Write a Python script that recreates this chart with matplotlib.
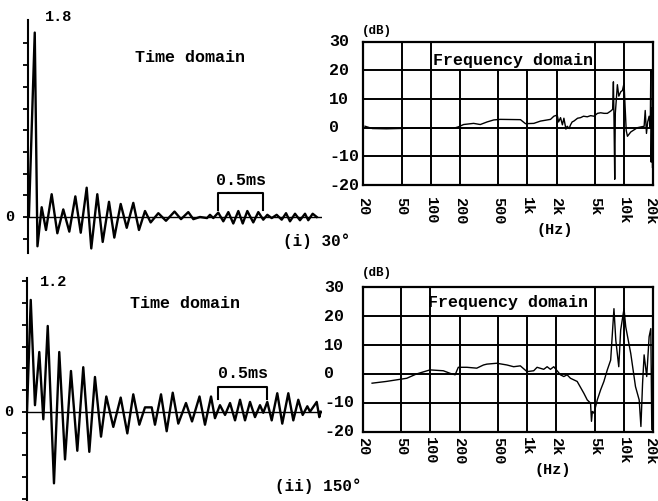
import numpy as np
import matplotlib
matplotlib.use("Agg")
import matplotlib.pyplot as plt
from matplotlib.transforms import blended_transform_factory, ScaledTranslation

# ---------------- data ----------------
# (i) 30 deg : impulse response (time in ms, relative amplitude)
t_top = [0.0, 0.01, 0.075, 0.105, 0.152, 0.200, 0.263, 0.326, 0.392, 0.459,
         0.526, 0.586, 0.652, 0.703, 0.770, 0.830, 0.900, 0.959, 1.030, 1.097,
         1.170, 1.233, 1.300, 1.363, 1.448, 1.533, 1.628, 1.700, 1.781, 1.837,
         1.911, 1.989, 2.022, 2.059, 2.114, 2.170, 2.226, 2.281, 2.337, 2.386,
         2.437, 2.503, 2.559, 2.614, 2.659, 2.708, 2.763, 2.819, 2.867, 2.911,
         2.967, 3.022, 3.078, 3.114, 3.163, 3.208]
amp_top = [0.0, 0.0, 1.70, -0.27, 0.09, -0.12, 0.21, -0.15, 0.07, -0.135,
           0.19, -0.145, 0.27, -0.29, 0.21, -0.23, 0.14, -0.19, 0.12, -0.10,
           0.13, -0.12, 0.055, -0.05, 0.035, -0.035, 0.05, -0.02, 0.045, -0.02,
           0.0, -0.01, 0.02, -0.01, 0.04, -0.04, 0.045, -0.06, 0.055, -0.06,
           0.055, -0.05, 0.045, -0.025, 0.02, -0.01, 0.02, -0.025, 0.035, -0.04,
           0.03, -0.03, 0.03, -0.03, 0.03, 0.0]

# (ii) 150 deg : impulse response
t_bot = [0.0, 0.039, 0.083, 0.128, 0.170, 0.216, 0.281, 0.336, 0.396, 0.458,
         0.524, 0.586, 0.649, 0.708, 0.771, 0.826, 0.899, 0.976, 1.045, 1.107,
         1.170, 1.229, 1.299, 1.333, 1.396, 1.455, 1.518, 1.576, 1.656, 1.719,
         1.797, 1.854, 1.917, 1.958, 2.010, 2.063, 2.115, 2.167, 2.219, 2.271,
         2.323, 2.375, 2.427, 2.461, 2.503, 2.549, 2.607, 2.659, 2.722, 2.774,
         2.826, 2.872, 2.920, 2.948, 3.018, 3.045, 3.059]
amp_bot = [0.0, 1.03, 0.06, 0.55, -0.07, 0.79, -0.66, 0.55, -0.44, 0.375,
           -0.36, 0.41, -0.37, 0.32, -0.23, 0.14, -0.14, 0.13, -0.20, 0.16,
           -0.12, 0.04, 0.04, -0.12, 0.16, -0.18, 0.175, -0.11, 0.08, -0.09,
           0.14, -0.12, 0.14, -0.06, 0.06, -0.03, 0.08, -0.08, 0.11, -0.08,
           0.09, -0.05, 0.06, -0.01, 0.09, -0.08, 0.17, -0.11, 0.17, -0.08,
           0.11, -0.03, 0.05, 0.0, 0.09, -0.05, 0.0]

# (i) 30 deg : frequency response (Hz, dB)
f_top = [21, 25, 35, 78, 173, 194, 219, 278, 326, 383,
         449, 526, 848, 955, 1165, 1365, 1734, 1876, 2033, 2100,
         2200, 2300, 2383, 2500, 2577, 2700, 2792, 2900, 3021, 3300,
         3545, 3800, 4160, 4500, 4880, 5300, 5720, 6200, 6700, 7260,
         7600, 7740, 7850, 7990, 8100, 8510, 8800, 9210, 9600, 9970,
         10200, 10500, 10810, 11700, 13710, 16080, 16500, 17000, 17500, 18110,
         18600, 18850, 19000, 19300, 19600, 20000]
db_top = [0.5, -0.3, -0.4, -0.1, -0.2, 0.3, 1.1, 1.5, 1.1, 2.0,
          2.7, 2.9, 2.8, 1.4, 1.5, 2.3, 2.9, 4.0, 4.4, 2.0,
          3.5, 1.0, 3.3, -0.5, 0.5, -0.3, 1.0, 2.0, 2.3, 3.3,
          3.5, 4.0, 3.8, 4.2, 4.0, 5.0, 5.2, 5.0, 5.0, 5.8,
          6.4, 16.0, 3.0, -18.0, 5.0, 15.0, 11.0, 12.5, 13.0, 15.5,
          8.0, -1.0, -3.0, -1.5, 0.0, 0.5, 6.0, -2.0, 2.0, 4.0,
          0.0, 20.0, -12.0, 7.0, -14.0, 5.0]

# (ii) 150 deg : frequency response
f_bot = [25, 35, 57, 72, 99, 136, 160, 180, 194, 238,
         301, 353, 383, 485, 617, 723, 848, 993, 1165, 1262,
         1479, 1603, 1734, 1876, 2033, 2199, 2383, 2577, 2792, 3275,
         3840, 4160, 4500, 4600, 4700, 4880, 5280, 5720, 6180, 6700,
         7260, 7850, 8200, 8800, 9210, 9970, 10390, 11700, 13100, 14300,
         14900, 15500, 16080, 17100, 18110, 18850, 19300, 19800, 20000]
db_bot = [-3.2, -2.6, -1.5, 0.0, 1.4, 1.1, 0.2, -0.3, 2.3, 2.3,
          2.0, 3.1, 3.4, 3.7, 3.1, 2.5, 2.8, 0.8, 1.1, 2.3,
          1.6, 2.5, 1.6, 2.5, 1.1, -0.3, -0.9, -0.3, -1.5, -2.6,
          -6.7, -9.0, -10.1, -16.4, -13.0, -13.6, -9.0, -5.5, -2.6, 1.4,
          4.8, 22.6, 11.7, 2.5, 15.2, 22.6, 16.3, 7.1, -4.4, -9.0,
          -18.2, -3.2, 6.6, -0.9, 12.9, 15.7, -19.3, 8.3, -20.0]

freq_ticks = [20, 50, 100, 200, 500, 1000, 2000, 5000, 10000, 20000]
freq_labels = ["20", "50", "100", "200", "500", "1k", "2k", "5k", "10k", "20k"]
db_ticks = [30, 20, 10, 0, -10, -20]
db_labels = ["30", "20", "10", "0", "-10", "-20"]

# ---------------- figure ----------------
W, H = 658, 501
fig = plt.figure(figsize=(W / 100, H / 100), dpi=100)
FONT = ["Liberation Mono", "DejaVu Sans Mono"]
plt.rcParams["font.family"] = FONT
plt.rcParams["font.weight"] = "bold"


def rect(x0, y0, x1, y1):
    return [x0 / W, 1 - y1 / H, (x1 - x0) / W, (y1 - y0) / H]


def ftxt(px, py, s, **kw):
    fig.text(px / W, 1 - py / H, s, **kw)


def time_axes(r, t, a, xmax, ylim, ticks, bracket, br_y):
    ax = fig.add_axes(r)
    ax.plot(t, a, color="black", lw=1.7, solid_joinstyle="round")
    ax.axhline(0, color="black", lw=1.0)
    ax.set_xlim(0, xmax)
    ax.set_ylim(*ylim)
    for s in ("top", "right", "bottom"):
        ax.spines[s].set_visible(False)
    ax.spines["left"].set_linewidth(1.5)
    ax.set_xticks([])
    ax.set_yticks(ticks)
    ax.set_yticklabels([])
    ax.tick_params(axis="y", direction="out", length=3.5, width=1.3)
    ax.patch.set_alpha(0)
    # bracket for 0.5 ms
    b0, b1 = bracket
    yh, yl = br_y
    ax.plot([b0, b0, b1, b1], [yl, yh, yh, yl], color="black", lw=1.5)
    ax.text((b0 + b1) / 2, yh + 0.12, "0.5ms", ha="center", va="center",
            fontsize=12, fontweight="bold")
    return ax


# top time-domain
time_axes(rect(28, 20, 322, 253), t_top, amp_top, (322 - 28) / 90,
          (-0.332, 1.816), np.round(np.arange(-0.2, 1.61, 0.2), 2),
          (2.114, 2.614), (0.22, 0.065))
ftxt(45, 17, "1.8", fontsize=11, fontweight="bold", ha="left", va="center")
ftxt(10, 217, "0", fontsize=11, ha="center", va="center")
ftxt(190, 58, "Time domain", fontsize=12, fontweight="bold", ha="center", va="center")
ftxt(283, 241, "(i) 30°", fontsize=11.5, fontweight="bold", ha="left", va="center")

# bottom time-domain
time_axes(rect(27, 278, 322, 501), t_bot, amp_bot, (322 - 27) / 96,
          (-0.823, 1.232), np.round(np.arange(-0.8, 1.21, 0.2), 2),
          (1.993, 2.497), (0.23, 0.115))
ftxt(40, 282, "1.2", fontsize=11, fontweight="bold", ha="left", va="center")
ftxt(9, 412, "0", fontsize=11, ha="center", va="center")
ftxt(185, 303, "Time domain", fontsize=12, fontweight="bold", ha="center", va="center")
ftxt(275, 486, "(ii) 150°", fontsize=11.5, fontweight="bold", ha="left", va="center")


def freq_axes(r, f, d, ylab_x, xlab_pad, hz_xy, db_xy, title_xy):
    ax = fig.add_axes(r)
    ax.set_xscale("log")
    ax.set_xlim(20, 20000)
    ax.set_ylim(-20, 30)
    # grid lines
    for v in [20, 10, 0, -10]:
        ax.plot([20, 20000], [v, v], color="black", lw=1.4, zorder=1)
    for fv in [50, 100, 5000, 10000]:
        ax.plot([fv, fv], [-20, 30], color="black", lw=1.4, zorder=1)
    for fv in [200, 500, 1000, 2000]:
        ax.plot([fv, fv], [-20, 20], color="black", lw=1.4, zorder=1)
    ax.plot(f, d, color="black", lw=1.0, zorder=3, clip_on=True)
    for s in ax.spines.values():
        s.set_linewidth(1.6)
    ax.set_yticks([])
    ax.minorticks_off()
    ax.set_xticks(freq_ticks)
    ax.set_xticklabels(freq_labels, rotation=-90, fontsize=11, fontweight="bold")
    ax.tick_params(axis="x", length=0, pad=xlab_pad)
    labs = ax.get_xticklabels()
    for lab in labs:
        lab.set_ha("center")
        lab.set_va("top")
    # keep the last label inside the picture
    labs[-1].set_transform(labs[-1].get_transform() +
                           ScaledTranslation(-3 / 100, 0, fig.dpi_scale_trans))
    tr = blended_transform_factory(fig.transFigure, ax.transData)
    for v, s in zip(db_ticks, db_labels):
        ax.text(ylab_x / W, v, s, transform=tr, ha="left", va="center",
                fontsize=12, fontweight="bold")
    ftxt(hz_xy[0], hz_xy[1], "(Hz)", fontsize=11, fontweight="bold",
         ha="center", va="center")
    ftxt(db_xy[0], db_xy[1], "(dB)", fontsize=9, fontweight="bold",
         ha="center", va="center")
    ftxt(title_xy[0], title_xy[1], "Frequency domain", fontsize=12,
         fontweight="bold", ha="center", va="center")
    return ax


freq_axes(rect(363, 41.7, 653.3, 185), f_top, db_top, 329, 8.5,
          (555, 230), (377, 31), (513, 60))
freq_axes(rect(362.7, 287.3, 653.3, 431.7), f_bot, db_bot, 324, 3.5,
          (553, 470), (377, 273), (508, 302))

fig.savefig("out.png", dpi=100, facecolor="white")
